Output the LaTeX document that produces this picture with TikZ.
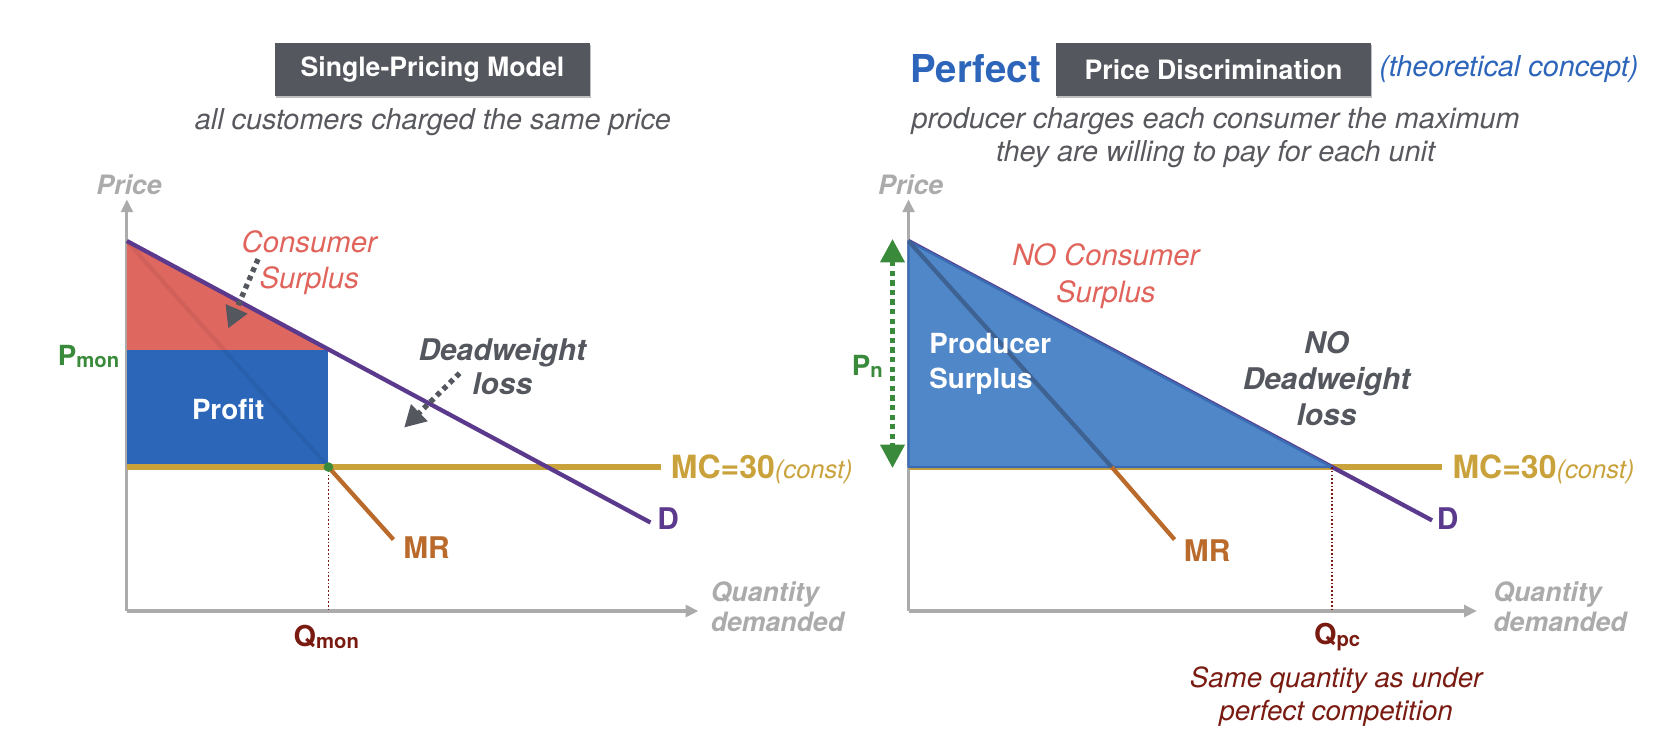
\documentclass[tikz,border=0pt]{standalone}
\usepackage{fontspec}
\setmainfont{TeX Gyre Heros}
\usetikzlibrary{arrows.meta}
\definecolor{boxgray}{HTML}{54575E}
\definecolor{subgray}{HTML}{58595E}
\definecolor{axisgray}{HTML}{ABABAB}
\definecolor{csred}{HTML}{DE675F}
\definecolor{cstext}{HTML}{E0645C}
\definecolor{profitblue}{HTML}{2C66B9}
\definecolor{psblue}{HTML}{4F87C8}
\definecolor{psedge}{HTML}{3A6BB3}
\definecolor{dpurple}{HTML}{5B3A8D}
\definecolor{mcgold}{HTML}{C9A23C}
\definecolor{mrorange}{HTML}{BA6A2B}
\definecolor{mrslate}{HTML}{3E6292}
\definecolor{pgreen}{HTML}{3A8A3B}
\definecolor{qred}{HTML}{7A1B12}
\definecolor{perfblue}{HTML}{2D65BA}
\newcommand\fsz[1]{\fontsize{#1}{#1}\selectfont}
\newcommand\lsz[2]{\fontsize{#1}{#2}\selectfont}
\begin{document}
\begin{tikzpicture}[x=1pt,y=-1pt,
  axisline/.style={draw=axisgray, line width=3pt, -{Triangle[width=11pt,length=12pt]}},
  dcurve/.style={draw=dpurple, line width=4pt},
  mccurve/.style={draw=mcgold, line width=5pt},
  mrcurve/.style={draw=mrorange, line width=4pt},
  qguide/.style={draw=qred, line width=1.3pt, dash pattern=on 1.5pt off 2pt},
  pointer/.style={draw=boxgray, line width=5pt, dash pattern=on 4.5pt off 4pt, -{Triangle[width=21pt,length=20pt]}},
  pnarrow/.style={draw=pgreen, line width=5pt, dash pattern=on 5pt off 4pt, {Triangle[width=22pt,length=22pt]}-{Triangle[width=22pt,length=22pt]}},
  titlebox/.style={fill=boxgray, text=white, font=\fsz{25}\bfseries, minimum width=#1, minimum height=50pt, inner sep=0pt},
  shadowbox/.style={fill=black!25, minimum width=#1, minimum height=50pt, inner sep=0pt},
  axlabel/.style={font=\lsz{25}{28.5}\bfseries\itshape, text=axisgray, align=left},
  subtext/.style={font=\lsz{27}{31.5}\itshape, text=subgray, align=center},
  bigbold/.style={font=\fsz{28}\bfseries, inner sep=0pt},
]
\useasboundingbox (0,0) rectangle (1568,699.6);

% ================= LEFT PANEL =================
\node[shadowbox=295pt] (T1s) at (406.5,67) {};
\node[titlebox=295pt] (T1) at (405.5,65) {Single-Pricing Model};
\node[subtext] (S1) at (406,115) {all customers charged the same price};

\coordinate (LO) at (119,573);
\coordinate (LYtop) at (119,187);
\coordinate (LXend) at (655,573);
\coordinate (LA) at (119,226);
\coordinate (LPm) at (119,328);
\coordinate (LE) at (308,328);
\coordinate (LMCl) at (119,438);
\coordinate (LM) at (308,438);
\coordinate (LMCr) at (620,438);
\coordinate (LDend) at (610,490);
\coordinate (LMRend) at (369,506);
\coordinate (LQ) at (308,573);

\draw[axisline] (LO) -- (LYtop);
\draw[axisline] (LO) -- (LXend);
\fill[csred] (LA) -- (LE) -- (LPm) -- cycle;
\fill[profitblue] (LPm) rectangle (LM);
\draw[draw=black, opacity=0.06, line width=4pt] (LA) -- (LM);
\draw[mccurve] (LMCl) -- (LMCr);
\draw[dcurve] (LA) -- (LDend);
\draw[mrcurve] (LM) -- (LMRend);
\draw[qguide] (LM) -- (LQ);
\fill[pgreen] (LM) circle (4.5pt);

\node[axlabel] (LPrice) at (121,173) {Price};
\node[axlabel, anchor=west] (LQty) at (663,569) {Quantity\\demanded};
\node[font=\lsz{27.5}{33.5}\itshape, text=cstext, align=center] (LCS) at (290,246) {Consumer\\Surplus};
\node[font=\lsz{28}{32}\bfseries\itshape, text=boxgray, align=center] (LDWL) at (471,344) {Deadweight\\loss};
\node[font=\fsz{26}\bfseries, text=white] (LProfit) at (214,384) {Profit};
\node[anchor=east, text=pgreen, inner sep=0pt] (LPlab) at (112,334) {{\fsz{26}\bfseries P}\raisebox{-2pt}{\fsz{19}\bfseries mon}};
\node[text=qred, inner sep=0pt] (LQlab) at (306,597) {{\fsz{27}\bfseries Q}\raisebox{-2pt}{\fsz{19}\bfseries mon}};
\node[bigbold, text=mrorange] (LMRlab) at (400,514) {MR};
\node[bigbold, text=dpurple] (LDlab) at (626.5,486) {D};
\node[anchor=west, text=mcgold, inner sep=0pt] (LMClab) at (629,440) {{\fsz{30}\bfseries MC=30}{\fsz{24}\itshape(const)}};

\coordinate (LCSa) at (242,243);
\coordinate (LCSb) at (214,308);
\draw[pointer] (LCSa) -- (LCSb);
\coordinate (LDWa) at (431,350);
\coordinate (LDWb) at (379,401);
\draw[pointer] (LDWa) -- (LDWb);

% ================= RIGHT PANEL =================
\node[font=\fsz{36}\bfseries, text=perfblue] (Perf) at (915,64) {Perfect};
\node[shadowbox=295pt] (T2s) at (1139,67) {};
\node[titlebox=295pt] (T2) at (1138,65) {Price Discrimination};
\node[font=\fsz{27}\itshape, text=perfblue] (Theo) at (1415,65) {(theoretical concept)};
\node[subtext] (S2) at (1140,129) {producer charges each consumer the maximum\\they are willing to pay for each unit};

\coordinate (RO) at (852,573);
\coordinate (RYtop) at (852,187);
\coordinate (RXend) at (1385,573);
\coordinate (RA) at (852,226);
\coordinate (RMCl) at (852,438);
\coordinate (RE) at (1249,438);
\coordinate (RMCr) at (1352,438);
\coordinate (RDend) at (1343,488);
\coordinate (RMRx) at (1042.6,438);
\coordinate (RMRend) at (1101.5,506);
\coordinate (RQ) at (1249,573);
\coordinate (RPtop) at (837,224);
\coordinate (RPbot) at (837,439);

\draw[axisline] (RO) -- (RYtop);
\draw[axisline] (RO) -- (RXend);
\draw[mccurve] (RMCl) -- (RMCr);
\draw[dcurve] (RA) -- (RDend);
\filldraw[fill=psblue, draw=psedge, line width=2.2pt, line join=round] (RA) -- (RE) -- (RMCl) -- cycle;
\draw[draw=mrslate, line width=4pt] (RA) -- (RMRx);
\draw[mrcurve] (RMRx) -- (RMRend);
\draw[qguide] (RE) -- (RQ);
\draw[pnarrow] (RPtop) -- (RPbot);

\node[axlabel] (RPrice) at (854,173) {Price};
\node[axlabel, anchor=west] (RQty) at (1397,569) {Quantity\\demanded};
\node[font=\lsz{27.5}{34.5}\itshape, text=cstext, align=center] (RCS) at (1037,259) {NO Consumer\\Surplus};
\node[font=\lsz{28}{33.5}\bfseries\itshape, text=boxgray, align=center] (RDWL) at (1244,355) {NO\\Deadweight\\loss};
\node[anchor=west, font=\lsz{26}{33}\bfseries, text=white, align=left] (RPS) at (868,341) {Producer\\Surplus};
\node[anchor=east, text=pgreen, inner sep=0pt] (RPlab) at (828,344) {{\fsz{26}\bfseries P}\raisebox{-2pt}{\fsz{19}\bfseries n}};
\node[text=qred, inner sep=0pt] (RQlab) at (1254,597) {{\fsz{27}\bfseries Q}\raisebox{-2pt}{\fsz{19}\bfseries pc}};
\node[font=\lsz{26}{31}\itshape, text=qred, align=center] (RSame) at (1253,653) {Same quantity as under\\perfect competition};
\node[bigbold, text=mrorange] (RMRlab) at (1132,516) {MR};
\node[bigbold, text=dpurple] (RDlab) at (1357.5,486) {D};
\node[anchor=west, text=mcgold, inner sep=0pt] (RMClab) at (1362,440) {{\fsz{30}\bfseries MC=30}{\fsz{24}\itshape(const)}};
\end{tikzpicture}
\end{document}
